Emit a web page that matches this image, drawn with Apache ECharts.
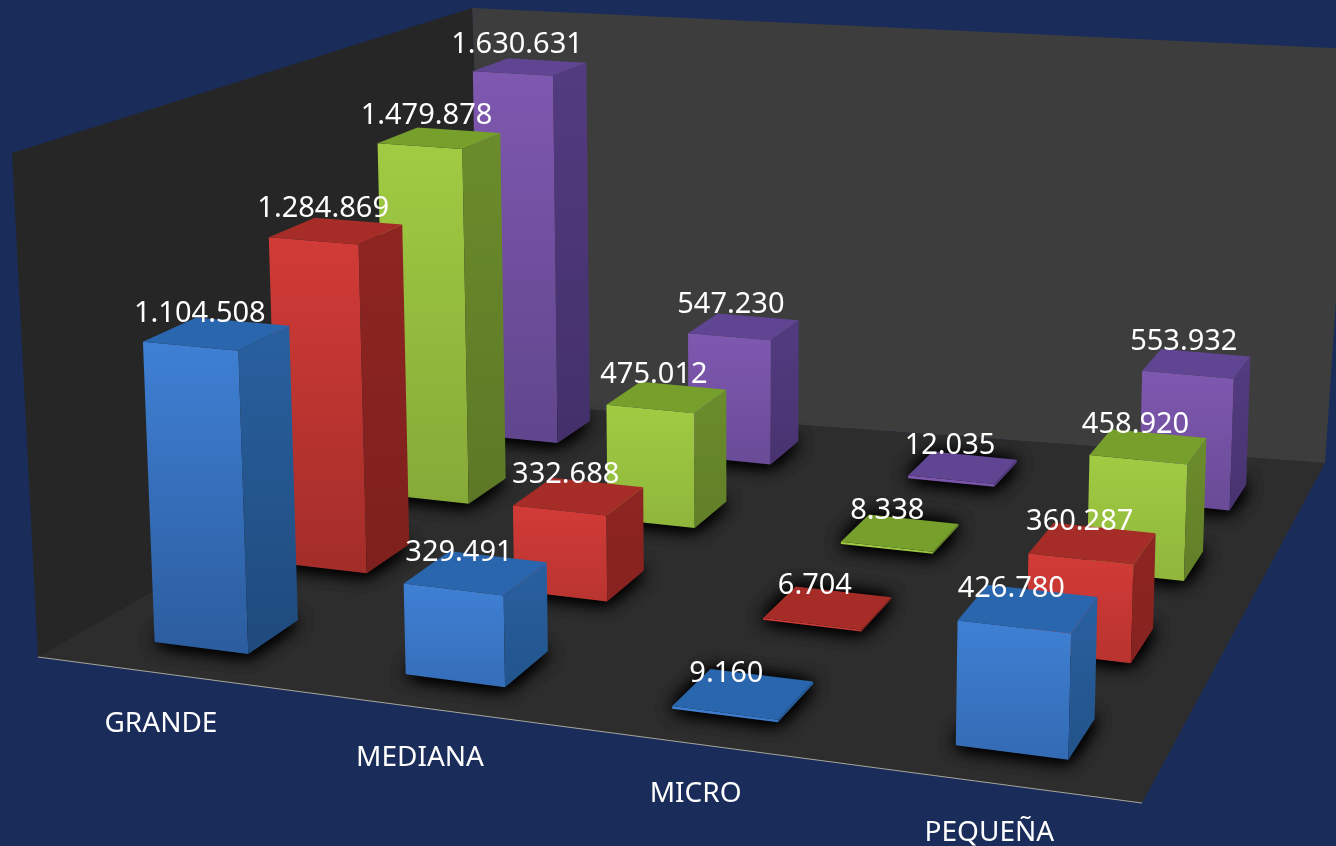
<!DOCTYPE html>
<html>
<head>
<meta charset="utf-8">
<style>html,body{margin:0;padding:0;background:#1a2c59;overflow:hidden}#c{width:1336px;height:846px}</style>
<script src="https://cdn.jsdelivr.net/npm/echarts@6/dist/echarts.min.js"></script>
</head>
<body>
<div id="c"></div>
<script>
const categories = ['GRANDE', 'MEDIANA', 'MICRO', 'PEQUEÑA'];
const seriesBlue = [1104508, 329491, 9160, 426780];
const seriesRed = [1284869, 332688, 6704, 360287];
const seriesGreen = [1479878, 475012, 8338, 458920];
const seriesPurple = [1630631, 547230, 12035, 553932];
const axisMax = 1800000;

const W = 1336, H = 846;
// The room behind the chart
const room = { fl:[38,657], fr:[1142,803], br:[1325,463], bl:[487,402], tl:[12,153], tb:[472,8], tr:[1353,49] };
// Camera calibration: screen position of the unit grid's corners and of a point above them
const calib = {
  floor:[[227,631],[1026,732],[1193,493],[535,428]],
  up:[[0,0,0.6136,215,337],[1,0,0.2371,1028,610],[1,1,0.3077,1194,360],[0,1,0.9059,532,66]]
};
const halfU = 0.0475, halfV = 0.05;

function buildCamera() {
  const [[x0,y0],[x1,y1],[x2,y2],[x3,y3]]=calib.floor;
  const sx=x0-x1+x2-x3, sy=y0-y1+y2-y3, dx1=x1-x2, dx2=x3-x2, dy1=y1-y2, dy2=y3-y2;
  const den=dx1*dy2-dx2*dy1;
  const g=(sx*dy2-dx2*sy)/den, k=(dx1*sy-sx*dy1)/den;
  const a=x1-x0+g*x1, b=x3-x0+k*x3, d=y1-y0+g*y1, e=y3-y0+k*y3;
  const rows=[], rhs=[];
  calib.up.forEach(([s,t,h,X,Y])=>{
    const w0=g*s+k*t+1, nx=a*s+b*t+x0, ny=d*s+e*t+y0;
    rows.push([h,0,-X*h]); rhs.push(X*w0-nx);
    rows.push([0,h,-Y*h]); rhs.push(Y*w0-ny);
  });
  const N=[[0,0,0],[0,0,0],[0,0,0]], r=[0,0,0];
  rows.forEach((row,i)=>{for(let m=0;m<3;m++){r[m]+=row[m]*rhs[i];for(let n=0;n<3;n++)N[m][n]+=row[m]*row[n];}});
  for(let m=0;m<3;m++){
    for(let n=m+1;n<3;n++){const f=N[n][m]/N[m][m];for(let c=m;c<3;c++)N[n][c]-=f*N[m][c];r[n]-=f*r[m];}
  }
  const z=[0,0,0];
  for(let m=2;m>=0;m--){let v=r[m];for(let c=m+1;c<3;c++)v-=N[m][c]*z[c];z[m]=v/N[m][m];}
  return (u,v,h)=>{
    const s=(u-0.125)/0.75, t=(v-0.125)/0.75;
    const w=g*s+k*t+1+z[2]*h;
    return [(a*s+b*t+x0+z[0]*h)/w,(d*s+e*t+y0+z[1]*h)/w];
  };
}
const project = buildCamera();

const palette = {
  blue:   {frontTop:'#3f80d4', frontBottom:'#2b5c9e', top:'#2a66ad', sideTop:'#28609f', sideBottom:'#1f4a7c'},
  red:    {frontTop:'#d23b37', frontBottom:'#a32d29', top:'#a62c28', sideTop:'#8e2522', sideBottom:'#7e201d'},
  green:  {frontTop:'#a0cb42', frontBottom:'#86aa38', top:'#769f2c', sideTop:'#6b8c2b', sideBottom:'#5c7826'},
  purple: {frontTop:'#7f58b0', frontBottom:'#60468c', top:'#5f4592', sideTop:'#533b80', sideBottom:'#43306a'}
};

function quad(points, fill, extra){
  return Object.assign({type:'polygon', shape:{points}, style:{fill}, silent:true}, extra||{});
}
function vgrad(c0,c1){return new echarts.graphic.LinearGradient(0,0,0,1,[{offset:0,color:c0},{offset:1,color:c1}]);}

// u from the category axis, h from the value axis
function readAxes(api){
  const p=api.coord([api.value(0),api.value(1)]);
  return {u:p[0]/W, h:(H-p[1])/H, value:api.value(1)};
}

function barSeries(name, data, depthIndex, pal){
  const v=(depthIndex+0.5)/4;
  const labelDx = depthIndex===0 ? -17 : -13, labelDy = depthIndex===0 ? -20 : -22;
  return {
    type:'custom', name, coordinateSystem:'cartesian2d', z:10+(3-depthIndex),
    data:data.map((val,i)=>[i,val]), clip:false, silent:true,
    renderItem(params,api){
      const {u,h,value}=readAxes(api);
      const u0=u-halfU,u1=u+halfU,v0=v-halfV,v1=v+halfV;
      const fbl=project(u0,v0,0),fbr=project(u1,v0,0),bbr=project(u1,v1,0);
      const ftl=project(u0,v0,h),ftr=project(u1,v0,h),btr=project(u1,v1,h),btl=project(u0,v1,h);
      const k=Math.min(1,value/1200000+0.25);
      const fb=echarts.color.lerp(k,[pal.frontTop,pal.frontBottom]);
      const sb=echarts.color.lerp(k,[pal.sideTop,pal.sideBottom]);
      const c=project(u,v,h);
      const text=value.toLocaleString('de-DE');
      return {type:'group',children:[
        quad([fbl,fbr,ftr,ftl],vgrad(pal.frontTop,fb)),
        quad([fbr,bbr,btr,ftr],vgrad(pal.sideTop,sb)),
        quad([ftl,ftr,btr,btl],pal.top),
        {type:'text',z2:50,silent:true,style:{text,x:c[0]+labelDx,y:c[1]+labelDy,align:'center',verticalAlign:'middle',
          fill:'#ffffff',font:'29px "Noto Sans"'}}
      ]};
    }
  };
}

function shadowSeries(name,data,depthIndex){
  const v=(depthIndex+0.5)/4;
  return {
    type:'custom', name:name+' sombra', coordinateSystem:'cartesian2d', z:5, clip:false, silent:true,
    data:data.map((val,i)=>[i,val]),
    renderItem(params,api){
      const {u}=readAxes(api);
      const pts=[project(u-halfU,v-halfV,0),project(u+halfU,v-halfV,0),project(u+halfU,v+halfV,0),project(u-halfU,v+halfV,0)];
      const layer=()=>quad(pts,'#101010',{style:{fill:'#101010',shadowBlur:18,shadowColor:'#000000'}});
      return {type:'group',children:[layer(),layer(),layer()]};
    }
  };
}

const roomSeries={
  type:'custom', name:'sala', coordinateSystem:'cartesian2d', z:1, clip:false, silent:true,
  data:[[0,0]],
  renderItem(){
    return {type:'group',children:[
      quad([room.bl,room.br,room.tr,room.tb],'#3d3d3d'),
      quad([room.fl,room.bl,room.tb,room.tl],'#262626'),
      quad([room.fl,room.fr,room.br,room.bl],'#2d2d2d'),
      {type:'polyline',silent:true,shape:{points:[room.fl,room.fr]},style:{stroke:'#a9a79c',lineWidth:1,fill:'none'}}
    ]};
  }
};

const labelSeries={
  type:'custom', name:'categorias', coordinateSystem:'cartesian2d', z:30, clip:false, silent:true,
  data:categories.map((c,i)=>[i,0]),
  renderItem(params,api){
    const {u}=readAxes(api);
    const p=project(u,0,0);
    return {type:'text',silent:true,style:{text:categories[params.dataIndex],x:p[0],y:p[1]+49,align:'center',verticalAlign:'middle',
      fill:'#ffffff',font:'28px "Noto Sans"'}};
  }
};

const chart=echarts.init(document.getElementById('c'),null,{renderer:'canvas',width:W,height:H});
chart.setOption({
  animation:false,
  backgroundColor:'#1a2c59',
  tooltip:{show:false},
  grid:{left:0,right:0,top:0,bottom:0},
  xAxis:{type:'category',data:categories,show:false},
  yAxis:{type:'value',min:0,max:axisMax,show:false},
  series:[
    roomSeries,
    shadowSeries('Serie 4',seriesPurple,3),
    shadowSeries('Serie 3',seriesGreen,2),
    shadowSeries('Serie 2',seriesRed,1),
    shadowSeries('Serie 1',seriesBlue,0),
    barSeries('Serie 4',seriesPurple,3,palette.purple),
    barSeries('Serie 3',seriesGreen,2,palette.green),
    barSeries('Serie 2',seriesRed,1,palette.red),
    barSeries('Serie 1',seriesBlue,0,palette.blue),
    labelSeries
  ]
});
</script>
</body>
</html>
